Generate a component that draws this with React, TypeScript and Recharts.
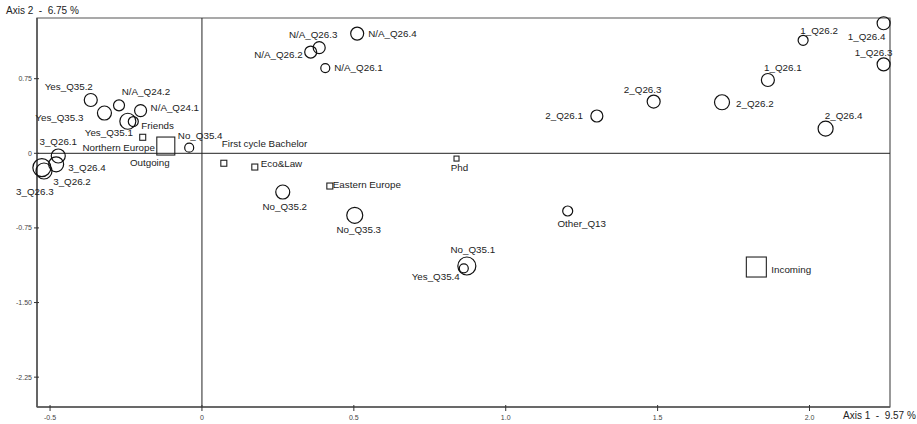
import React from "react";
import {
  ScatterChart,
  Scatter,
  XAxis,
  YAxis,
  ReferenceLine,
  ReferenceArea,
} from "recharts";

// active categories (drawn as circles)
const activeNames = [
  "3_Q26.3", "3_Q26.2", "3_Q26.4", "3_Q26.1",
  "Yes_Q35.2", "Yes_Q35.3", "N/A_Q24.2", "Yes_Q35.1", "Friends", "N/A_Q24.1",
  "No_Q35.4", "N/A_Q26.2", "N/A_Q26.3", "N/A_Q26.1", "N/A_Q26.4",
  "No_Q35.2", "No_Q35.3", "No_Q35.1", "Yes_Q35.4", "Other_Q13",
  "2_Q26.1", "2_Q26.3", "2_Q26.2", "1_Q26.1", "1_Q26.2", "2_Q26.4",
  "1_Q26.4", "1_Q26.3",
];
const activeAxis1 = [
  -0.527, -0.52, -0.48, -0.473,
  -0.366, -0.321, -0.273, -0.244, -0.226, -0.202,
  -0.042, 0.358, 0.386, 0.406, 0.511,
  0.266, 0.503, 0.872, 0.862, 1.204,
  1.3, 1.487, 1.712, 1.863, 1.979, 2.053,
  2.244, 2.244,
];
const activeAxis2 = [
  -0.144, -0.178, -0.111, -0.027,
  0.536, 0.405, 0.482, 0.322, 0.319, 0.429,
  0.057, 1.018, 1.062, 0.857, 1.203,
  -0.389, -0.623, -1.133, -1.156, -0.58,
  0.375, 0.52, 0.513, 0.737, 1.136, 0.248,
  1.307, 0.894,
];

// supplementary categories (drawn as squares)
const suppNames = [
  "Northern Europe", "Outgoing", "First cycle Bachelor", "Eco&Law",
  "Eastern Europe", "Phd", "Incoming",
];
const suppAxis1 = [-0.195, -0.119, 0.072, 0.174, 0.421, 0.838, 1.825];
const suppAxis2 = [0.161, 0.073, -0.1, -0.138, -0.329, -0.053, -1.143];

const xTicks = [-0.5, 0, 0.5, 1.0, 1.5, 2.0];
const yTicks = [0.75, 0, -0.75, -1.5, -2.25];
const xDomain: [number, number] = [-0.543, 2.265];
const yDomain: [number, number] = [-2.55, 1.36];

// marker size (px) and label placement [dx, dy, anchor]
const markStyle: Record<string, [number, number, number, "start" | "middle" | "end"]> = {
  "Yes_Q35.2": [6.5, -22, -13, "middle"],
  "N/A_Q24.2": [5.5, 27, -14, "middle"],
  "Yes_Q35.3": [7, -21, 4, "end"],
  "N/A_Q24.1": [6, 10, -3, "start"],
  "Yes_Q35.1": [8, -19, 11, "middle"],
  Friends: [5, 8, 4, "start"],
  "No_Q35.4": [4.5, 11, -12, "middle"],
  "3_Q26.1": [7, 0, -14, "middle"],
  "3_Q26.4": [7.5, 12, 3, "start"],
  "3_Q26.3": [9, -7, 24, "middle"],
  "3_Q26.2": [8, 28, 10, "middle"],
  "No_Q35.2": [7, 2, 14, "middle"],
  "No_Q35.3": [8, 4, 14, "middle"],
  "Other_Q13": [5, 14, 12, "middle"],
  "No_Q35.1": [9, 6, -17, "middle"],
  "Yes_Q35.4": [4.5, -4, 8, "end"],
  "N/A_Q26.4": [6.5, 11, 0, "start"],
  "N/A_Q26.3": [6, -6, -13, "middle"],
  "N/A_Q26.2": [6, -8, 2, "end"],
  "N/A_Q26.1": [4.5, 9, -1, "start"],
  "2_Q26.1": [6, -14, 0, "end"],
  "2_Q26.3": [6.5, -11, -12, "middle"],
  "2_Q26.2": [7.5, 14, 1, "start"],
  "1_Q26.1": [6.5, 15, -12, "middle"],
  "2_Q26.4": [7.5, 18, -13, "middle"],
  "1_Q26.2": [5, 16, -10, "middle"],
  "1_Q26.4": [6.5, -17, 13, "middle"],
  "1_Q26.3": [6.5, -10, -12, "middle"],
  "Northern Europe": [3, -24, 10, "middle"],
  Outgoing: [9, -16, 16, "middle"],
  "First cycle Bachelor": [3, -2, -20, "start"],
  "Eco&Law": [3, 6, -4, "start"],
  "Eastern Europe": [3, 3, -2, "start"],
  Phd: [2.5, 3, 9, "middle"],
  Incoming: [10, 15, 2, "start"],
};

const FONT = "'Liberation Sans', Arial, sans-serif";

const activeData = activeNames.map((name, i) => ({
  name,
  axis1: activeAxis1[i],
  axis2: activeAxis2[i],
}));
const suppData = suppNames.map((name, i) => ({
  name,
  axis1: suppAxis1[i],
  axis2: suppAxis2[i],
}));

const Mark = (props: any, square: boolean) => {
  const { cx, cy, payload } = props;
  const [s, dx, dy, anchor] = markStyle[payload.name] ?? [5, 8, 0, "start"];
  return (
    <g>
      {square ? (
        <rect x={cx - s} y={cy - s} width={2 * s} height={2 * s} fill="none" stroke="#222" strokeWidth={1.1} />
      ) : (
        <circle cx={cx} cy={cy} r={s} fill="none" stroke="#111" strokeWidth={1.2} />
      )}
      <text
        x={cx + dx}
        y={cy + dy}
        textAnchor={anchor}
        dominantBaseline="central"
        fontSize={9.8}
        fontFamily={FONT}
        fill="#222"
      >
        {payload.name}
      </text>
    </g>
  );
};

const XTick = ({ x, y, payload }: any) => (
  <g>
    <line x1={x} x2={x} y1={y - 2} y2={y + 4} stroke="#333" />
    <text x={x} y={y + 10} textAnchor="middle" dominantBaseline="central" fontSize={7} fontFamily={FONT} fill="#444">
      {payload.value === 0 ? "0" : payload.value.toFixed(1)}
    </text>
  </g>
);

const YTick = ({ x, y, payload }: any) => (
  <g>
    <line x1={x - 3} x2={x + 2} y1={y} y2={y} stroke="#333" />
    <text x={x - 5} y={y} textAnchor="end" dominantBaseline="central" fontSize={7} fontFamily={FONT} fill="#444">
      {payload.value === 0 ? "0" : payload.value.toFixed(2)}
    </text>
  </g>
);

export default function App() {
  return (
    <div style={{ position: "absolute", left: 0, top: 0, width: 917, height: 424, background: "#fff", fontFamily: FONT }}>
      <ScatterChart width={917} height={424} margin={{ top: 18, right: 27, bottom: 0, left: 0 }}>
        <XAxis
          type="number"
          dataKey="axis1"
          domain={xDomain}
          ticks={xTicks}
          height={17}
          tickSize={0}
          tickMargin={0}
          tickLine={false}
          tick={<XTick />}
          axisLine={{ stroke: "#555", strokeWidth: 1.5 }}
        />
        <YAxis
          type="number"
          dataKey="axis2"
          domain={yDomain}
          ticks={yTicks}
          width={37}
          tickSize={0}
          tickMargin={0}
          tickLine={false}
          tick={<YTick />}
          axisLine={{ stroke: "#555", strokeWidth: 1.5 }}
        />
        <ReferenceArea
          x1={xDomain[0]}
          x2={xDomain[1]}
          y1={yDomain[0]}
          y2={yDomain[1]}
          fill="none"
          stroke="#555"
          strokeWidth={1.2}
        />
        <ReferenceLine x={0} stroke="#222" strokeWidth={1} />
        <ReferenceLine y={0} stroke="#222" strokeWidth={1} />
        <Scatter data={suppData} isAnimationActive={false} shape={(p: any) => Mark(p, true)} />
        <Scatter data={activeData} isAnimationActive={false} shape={(p: any) => Mark(p, false)} />
      </ScatterChart>
      <div style={{ position: "absolute", left: 6, top: 5, fontSize: 10, color: "#222", whiteSpace: "pre" }}>
        {"Axis 2  -  6.75 %"}
      </div>
      <div style={{ position: "absolute", left: 843, top: 410, fontSize: 10, color: "#222", whiteSpace: "pre" }}>
        {"Axis 1  -  9.57 %"}
      </div>
    </div>
  );
}
